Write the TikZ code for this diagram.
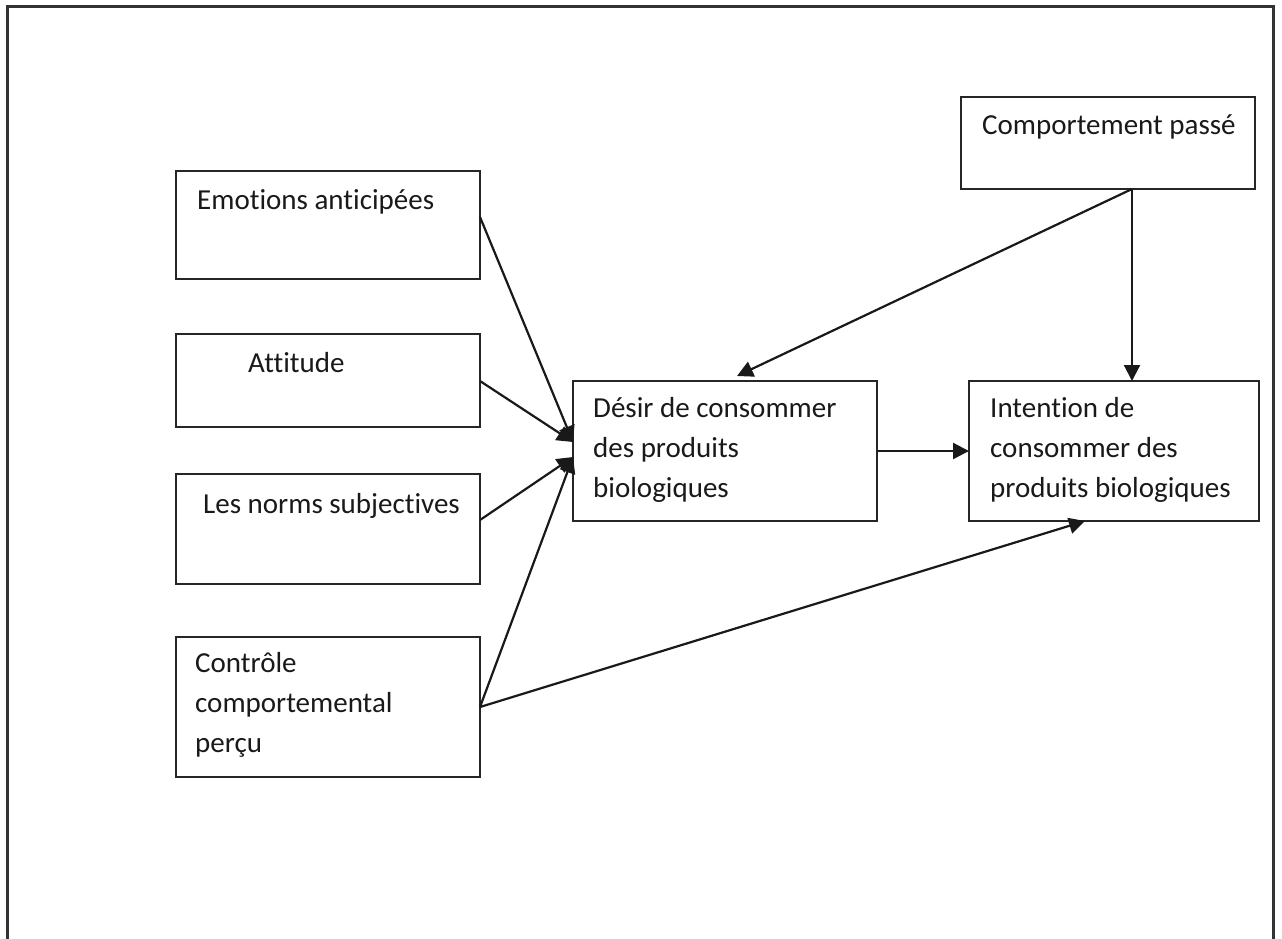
\documentclass[tikz,border=0pt]{standalone}
\usepackage{fontspec}
\setmainfont{Carlito}[Ligatures={NoCommon,NoRare}]
\usetikzlibrary{arrows.meta,calc}
\tikzset{
  box/.style={draw=black!85, line width=1.8pt, inner sep=0pt, outer sep=0pt, anchor=north west},
  txt/.style={anchor=base west, inner sep=0pt, align=left, font=\fontsize{29}{40}\selectfont, text=black!90},
  arr/.style={draw=black!90, line width=2.2pt, -{Triangle[length=16pt,width=16pt]}},
  frame/.style={draw=black!80, line width=3pt}
}
\begin{document}
\begin{tikzpicture}[x=1pt,y=-1pt]
\useasboundingbox (0,0) rectangle (1282,938);
\clip (0,0) rectangle (1282,938);
\coordinate (fa) at (7,6);
\coordinate (fb) at (1273,960);
\draw[frame] (fa) rectangle (fb);

% boxes
\node[box, minimum width=304pt, minimum height=108pt] (emo) at (176,171) {};
\node[box, minimum width=304pt, minimum height=93pt] (att) at (176,334) {};
\node[box, minimum width=304pt, minimum height=110pt] (nor) at (176,474) {};
\node[box, minimum width=304pt, minimum height=140pt] (con) at (176,637) {};
\node[box, minimum width=304pt, minimum height=140pt] (des) at (573,381) {};
\node[box, minimum width=290pt, minimum height=140pt] (int) at (969,381) {};
\node[box, minimum width=294pt, minimum height=92pt] (pas) at (961,97) {};

% texts (multi-line nodes are placed by the baseline of their last line)
\node[txt] (temo) at (197,209) {Emotions anticipées};
\node[txt] (tatt) at (248,372) {Attitude};
\node[txt] (tnor) at (203,513) {Les norms subjectives};
\node[txt] (tcon) at (195,752) {Contrôle\\comportemental\\perçu};
\node[txt] (tdes) at (593,497) {Désir de consommer\\des produits\\biologiques};
\node[txt] (tint) at (990,497) {Intention de\\consommer des\\produits biologiques};
\node[txt] (tpas) at (982,134) {Comportement passé};

% connectors
\draw[arr] ([yshift=-46pt]emo.north east) -- ([yshift=-61pt]des.north west);
\draw[arr] ([yshift=-47pt]att.north east) -- ([yshift=-61pt]des.north west);
\draw[arr] ([yshift=-46pt]nor.north east) -- ([yshift=-76pt]des.north west);
\draw[arr] ([yshift=-70pt]con.north east) -- ([yshift=-76pt]des.north west);
\draw[arr] ([yshift=-70pt]con.north east) -- ([xshift=116pt]int.south west);
\draw[arr] ([xshift=171pt]pas.south west) -- ([xshift=164pt,yshift=5pt]des.north west);
\draw[arr] ([xshift=171pt]pas.south west) -- ([xshift=163pt]int.north west);
\draw[arr] ([yshift=-70pt]des.north east) -- ([yshift=-70pt]int.north west);
\end{tikzpicture}
\end{document}
